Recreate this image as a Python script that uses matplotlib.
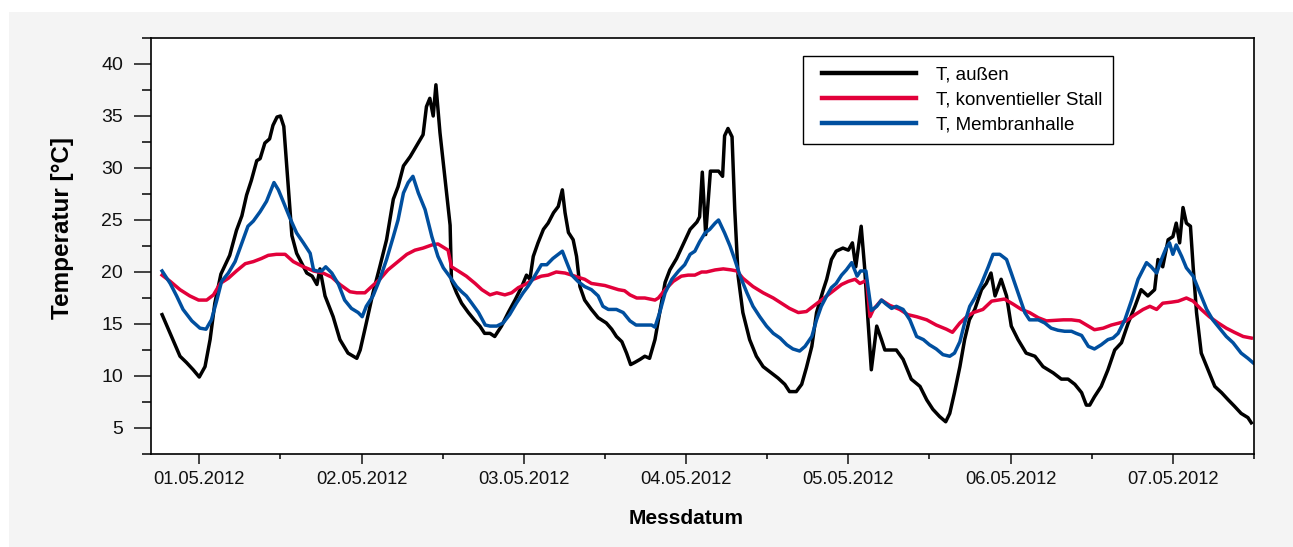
import matplotlib
matplotlib.use('Agg')
import matplotlib.pyplot as plt
import matplotlib.dates as mdates
from matplotlib.patches import Rectangle
from matplotlib.legend_handler import HandlerLine2D
from matplotlib.lines import Line2D
from datetime import datetime, timedelta

plt.rcParams['font.family'] = ['Liberation Sans', 'DejaVu Sans']

# times in hours after 01.05.2012 00:00, values in °C
aussen_h = [-5.5, -4.3, -2.85, -1.9, -0.9, 0, 0.85, 1.6, 2.3, 3.2, 4.5, 5.5, 6.3, 7.0, 7.7, 8.5, 9.0, 9.7,
            10.4, 10.9, 11.5, 12.0, 12.5, 13.7, 14.4, 15.9, 16.7, 17.4, 17.85, 18.6, 19.8, 20.8, 22.0, 23.3,
            23.8, 24.5, 25.7, 26.7, 27.7, 28.7, 29.4, 30.2, 31.2, 32.1, 33.1, 33.6, 34.1, 34.6, 35.0, 35.6,
            37.1, 37.3, 38.05, 38.8, 39.8, 40.8, 41.5, 42.2, 43.0, 43.7, 44.7, 45.7, 46.7, 47.7, 48.4, 48.9,
            49.4, 50.1, 50.9, 51.6, 52.4, 53.1, 53.7, 54.1, 54.6, 55.3, 55.8, 56.3, 57.0, 58.0, 59.0, 60.2,
            61.0, 61.7, 62.5, 63.2, 63.8, 64.4, 65.2, 65.9, 66.6, 67.4, 68.1, 68.9, 69.6, 70.6, 71.6, 72.6,
            73.6, 74.0, 74.4, 74.9, 75.6, 76.8, 77.4, 77.7, 78.2, 78.8, 79.2, 79.7, 80.4, 81.4, 82.4, 83.4,
            84.4, 85.6, 86.6, 87.3, 88.3, 89.1, 89.8, 90.6, 91.3, 92.3, 92.8, 93.5, 94.2, 95.2, 96.0, 96.6,
            97.1, 97.9, 98.4, 98.9, 99.4, 100.2, 100.9, 101.4, 103.1, 104.1, 105.3, 106.6, 107.6, 108.5,
            109.5, 110.4, 111.0, 111.7, 112.5, 113.2, 113.9, 114.7, 115.7, 116.4, 117.1, 117.7, 118.6,
            119.4, 120.1, 121.1, 122.3, 123.6, 124.8, 126.3, 127.5, 128.5, 129.5, 130.5, 131.2, 131.7,
            132.4, 133.4, 134.4, 135.4, 136.4, 137.4, 138.4, 139.3, 140.3, 141.3, 141.8, 142.5, 143.3,
            144.0, 144.5, 145.0, 145.5, 146.0, 146.6, 147.0, 147.5, 148.2, 149.2, 150.2, 151.2, 152.2,
            153.1, 154.1, 155.1, 155.6]
aussen = [15.9, 14.1, 11.9, 11.3, 10.6, 9.9, 10.9, 13.5, 17.0, 19.8, 21.6, 24.0, 25.4, 27.4, 28.8, 30.7, 30.9, 32.4,
          32.8, 34.1, 34.9, 35.0, 34.0, 23.5, 21.8, 19.9, 19.6, 18.8, 20.3, 17.7, 15.7, 13.5, 12.2, 11.7,
          12.5, 14.5, 18.0, 20.5, 23.1, 27.0, 28.2, 30.2, 31.1, 32.1, 33.2, 35.9, 36.7, 35.0, 38.0, 33.4,
          24.5, 19.2, 18.0, 17.0, 16.1, 15.3, 14.8, 14.1, 14.1, 13.8, 14.8, 16.1, 17.3, 18.6, 19.7, 19.3,
          21.5, 22.8, 24.1, 24.7, 25.7, 26.3, 27.9, 25.7, 23.8, 23.1, 21.5, 18.6, 17.3, 16.4, 15.6, 15.1,
          14.5, 13.8, 13.3, 12.2, 11.1, 11.3, 11.6, 11.9, 11.7, 13.5, 16.1, 19.0, 20.2, 21.3, 22.7, 24.1,
          24.8, 25.3, 29.6, 23.6, 29.7, 29.7, 29.2, 33.1, 33.8, 33.0, 26.0, 19.6, 16.1, 13.5, 11.9, 10.9,
          10.4, 9.8, 9.2, 8.5, 8.5, 9.2, 10.8, 12.85, 16.1, 18.3, 19.3, 21.2, 22.0, 22.3, 22.1, 22.8,
          20.5, 24.4, 20.5, 15.4, 10.6, 14.8, 13.5, 12.5, 12.5, 11.6, 9.7, 9.0, 7.7, 6.8,
          6.1, 5.6, 6.4, 8.4, 10.9, 13.5, 15.4, 16.4, 18.3, 18.9, 19.9, 17.7, 19.3,
          17.7, 14.8, 13.5, 12.2, 11.9, 10.9, 10.3, 9.7, 9.7, 9.2, 8.4, 7.2, 7.2,
          8.0, 9.0, 10.6, 12.5, 13.2, 15.1, 16.7, 18.3, 17.7, 18.3, 21.2, 20.5, 23.1,
          23.4, 24.7, 22.8, 26.2, 24.7, 24.4, 20.5, 16.1, 12.2, 10.6, 9.0, 8.4, 7.7,
          7.1, 6.4, 6.0, 5.5]

stall_h = [-5.5, -4.3, -2.85, -1.4, -0.1, 1.1, 2.1, 3.1, 4.3, 5.5, 6.8, 8.0, 9.2, 10.2, 11.4, 12.7, 13.9, 15.4,
           16.9, 18.3, 19.6, 20.8, 22.3, 23.3, 24.5, 25.5, 26.7, 27.9, 29.2, 30.7, 31.9, 33.1, 34.4, 35.3,
           36.8, 37.3, 38.3, 39.5, 40.8, 41.8, 43.0, 44.0, 45.2, 46.2, 47.2, 48.2, 49.4, 50.6, 51.6, 52.8,
           54.1, 55.1, 56.0, 57.0, 58.0, 59.0, 60.0, 61.0, 62.0, 62.9, 63.7, 64.7, 65.9, 67.4, 67.9, 68.9,
           70.1, 71.3, 72.3, 73.3, 74.3, 75.0, 76.3, 77.5, 78.7, 79.5, 80.4, 81.9, 83.4, 84.9, 86.1, 87.3,
           88.6, 89.8, 90.8, 92.0, 93.0, 94.0, 95.0, 96.0, 97.0, 97.7, 98.4, 98.7, 99.2, 99.7, 100.9,
           102.1, 103.6, 104.8, 106.1, 107.6, 109.0, 110.5, 111.4, 112.5, 113.5, 114.5, 115.9, 117.2,
           118.2, 119.1, 120.4, 121.6, 122.8, 124.1, 125.3, 126.5, 127.8, 129.0, 130.2, 131.5, 132.4,
           133.7, 134.9, 136.1, 137.1, 138.4, 139.6, 140.6, 141.6, 142.5, 143.8, 144.8, 146.0, 147.0,
           148.2, 149.4, 150.7, 151.9, 153.1, 154.4, 155.6]
stall = [19.7, 19.1, 18.3, 17.7, 17.3, 17.3, 17.8, 18.9, 19.4, 20.1, 20.8, 21.0, 21.3, 21.6, 21.7, 21.7, 21.0, 20.5,
         20.1, 19.9, 19.5, 18.8, 18.1, 18.0, 18.0, 18.6, 19.3, 20.2, 20.9, 21.7, 22.1, 22.3, 22.6, 22.7,
         22.1, 20.5, 20.1, 19.6, 18.9, 18.3, 17.8, 18.0, 17.8, 18.0, 18.5, 18.8, 19.3, 19.6, 19.7, 20.0,
         19.9, 19.7, 19.5, 19.3, 18.9, 18.8, 18.7, 18.5, 18.3, 18.2, 17.8, 17.5, 17.5, 17.3, 17.5, 18.3,
         19.1, 19.6, 19.7, 19.7, 20.0, 20.0, 20.2, 20.3, 20.2, 20.1, 19.4, 18.6, 18.0, 17.5, 17.0, 16.5,
         16.1, 16.2, 16.7, 17.3, 17.8, 18.3, 18.8, 19.1, 19.3, 18.9, 19.1, 19.2, 15.7, 16.4, 17.3,
         16.8, 16.4, 15.9, 15.7, 15.4, 14.9, 14.5, 14.2, 15.1, 15.7, 16.1, 16.4, 17.2,
         17.3, 17.4, 16.9, 16.4, 16.1, 15.6, 15.3, 15.35, 15.4, 15.4, 15.3, 14.8, 14.45,
         14.6, 14.9, 15.1, 15.3, 15.9, 16.4, 16.7, 16.4, 17.0, 17.1, 17.2, 17.5, 17.2,
         16.4, 15.7, 15.1, 14.6, 14.2, 13.8, 13.65]

halle_h = [-5.5, -4.3, -3.35, -2.4, -1.1, 0.1, 1.0, 1.8, 2.6, 3.3, 4.3, 5.3, 6.3, 7.2, 8.0, 9.0, 9.95, 11.05,
           11.7, 12.4, 13.4, 14.4, 15.4, 16.4, 16.9, 17.4, 18.1, 18.7, 19.6, 20.6, 21.5, 22.5, 23.5, 24.1,
           24.7, 25.7, 26.7, 27.7, 28.7, 29.4, 30.2, 30.9, 31.6, 32.4, 33.4, 34.4, 35.3, 36.1, 37.0, 38.05,
           38.8, 39.5, 40.3, 41.3, 42.3, 43.0, 44.0, 44.95, 45.9, 46.9, 47.9, 48.6, 49.6, 50.6, 51.4, 52.3,
           53.1, 53.7, 54.3, 55.1, 56.0, 57.0, 58.0, 59.0, 59.7, 60.5, 61.7, 62.7, 63.7, 64.6, 65.9, 66.9,
           67.4, 68.1, 68.9, 69.9, 70.9, 71.8, 72.6, 73.3, 74.0, 74.8, 75.5, 76.3, 76.8, 77.7, 78.5, 79.2,
           80.0, 81.0, 81.9, 82.9, 83.9, 84.9, 85.9, 86.9, 87.8, 88.8, 89.6, 90.6, 91.3, 92.0, 92.8, 93.5,
           94.2, 95.0, 95.7, 96.5, 97.3, 97.8, 98.6, 98.9, 99.4, 100.2, 100.9, 101.6, 102.4, 103.1, 104.1,
           105.1, 106.1, 107.1, 108.0, 109.0, 110.0, 111.0, 111.7, 112.5, 113.2, 113.96, 114.7, 115.7,
           116.7, 117.4, 118.4, 119.4, 120.1, 121.1, 122.1, 122.8, 124.1, 125.05, 126.0, 127.0, 128.0,
           129.0, 129.7, 130.5, 131.5, 132.4, 133.4, 134.4, 135.15, 135.9, 136.9, 137.9, 138.85, 140.1,
           140.8, 141.6, 142.3, 143.0, 143.5, 144.0, 144.5, 145.3, 146.0, 147.0, 148.0, 149.0, 149.9,
           150.9, 151.9, 152.9, 154.1, 155.1, 155.9]
halle = [20.1, 18.9, 17.7, 16.4, 15.3, 14.6, 14.5, 15.4, 17.3, 19.1, 19.9, 21.0, 22.8, 24.4, 24.9, 25.8, 26.8, 28.6,
         27.9, 26.8, 25.2, 23.75, 22.8, 21.8, 20.2, 20.1, 20.1, 20.5, 19.9, 18.8, 17.3, 16.5, 16.1, 15.7,
         16.7, 17.7, 19.3, 21.2, 23.4, 25.0, 27.6, 28.6, 29.2, 27.6, 26.0, 23.4, 21.5, 20.4, 19.6, 18.6,
         18.1, 17.7, 17.0, 16.1, 14.9, 14.8, 14.8, 15.1, 15.9, 17.0, 18.0, 18.6, 19.6, 20.7, 20.7, 21.3,
         21.7, 22.0, 21.0, 19.7, 19.1, 18.6, 18.3, 17.7, 16.7, 16.4, 16.4, 16.1, 15.3, 14.9, 14.9, 14.9,
         14.7, 16.1, 18.0, 19.3, 20.1, 20.7, 21.7, 22.0, 22.9, 23.75, 24.1, 24.7, 25.0, 23.75, 22.5, 21.2,
         19.6, 18.0, 16.7, 15.7, 14.8, 14.1, 13.65, 13.0, 12.6, 12.4, 12.85, 13.8, 15.4, 16.7, 17.7, 18.5,
         18.9, 19.7, 20.2, 20.9, 19.6, 20.1, 20.1, 18.6, 16.3, 16.7, 17.3, 16.9, 16.5, 16.7, 16.4,
         15.4, 13.8, 13.5, 13.0, 12.6, 12.05, 11.9, 12.2, 13.3, 15.1, 16.7, 17.5, 18.9,
         20.5, 21.7, 21.7, 21.2, 19.9, 18.0, 16.1, 15.4, 15.4, 15.1, 14.6, 14.4, 14.3,
         14.3, 14.1, 13.9, 12.85, 12.6, 13.0, 13.5, 13.65, 14.1, 15.4, 17.3, 19.3, 20.9,
         20.5, 19.9, 21.2, 22.3, 22.8, 21.7, 22.6, 21.5, 20.4, 19.6, 18.0, 16.4, 15.4,
         14.6, 13.8, 13.2, 12.2, 11.7, 11.25]

labels = ['T, außen', 'T, konventieller Stall', 'T, Membranhalle']
colors = ['#000000', '#e2003a', '#004f9f']

start = datetime(2012, 5, 1)


def to_dates(hours):
    return [start + timedelta(hours=h) for h in hours]


fig = plt.figure(figsize=(12.93, 5.47), dpi=100)
fig.patches.append(Rectangle((9 / 1293, 0), 1 - 9 / 1293, 1 - 12 / 547, transform=fig.transFigure,
                             facecolor='#f4f4f4', edgecolor='none', zorder=-10))
ax = fig.add_axes([151 / 1293, 93 / 547, 1103 / 1293, 416 / 547])

ax.plot(to_dates(aussen_h), aussen, color=colors[0], lw=2.5, label=labels[0])
ax.plot(to_dates(stall_h), stall, color=colors[1], lw=2.5, label=labels[1])
ax.plot(to_dates(halle_h), halle, color=colors[2], lw=2.5, label=labels[2])

ax.set_xlim(start - timedelta(hours=7.14), start + timedelta(hours=156))
ax.set_ylim(2.5, 42.5)
ax.set_yticks([5, 10, 15, 20, 25, 30, 35, 40])
ax.set_yticks([2.5, 7.5, 12.5, 17.5, 22.5, 27.5, 32.5, 37.5, 42.5], minor=True)
ax.xaxis.set_major_locator(mdates.DayLocator())
ax.xaxis.set_minor_locator(mdates.HourLocator(byhour=[12]))
ax.xaxis.set_major_formatter(mdates.DateFormatter('%d.%m.%Y'))

ax.tick_params(axis='y', which='major', direction='out', length=12, width=1.1, labelsize=14, pad=8,
               colors='#111111')
ax.tick_params(axis='y', which='minor', direction='out', length=6.5, width=1.1)
ax.tick_params(axis='x', which='major', direction='out', length=7, width=1.1, labelsize=13.2, pad=5,
               colors='#111111')
ax.tick_params(axis='x', which='minor', direction='out', length=3.5, width=1.1)
for s in ax.spines.values():
    s.set_linewidth(1.2)

fig.text(62 / 1293, 1 - 228 / 547, 'Temperatur [°C]', rotation=90, ha='center', va='center',
         fontsize=17.5, fontweight='bold')
fig.text(686 / 1293, 1 - 518 / 547, 'Messdatum', ha='center', va='center', fontsize=15, fontweight='bold')

leg = ax.legend(loc='upper left', bbox_to_anchor=((803 - 151) / 1103, (454 - 56) / 416), fontsize=13.5,
                fancybox=False, edgecolor='black', framealpha=1, handlelength=5.45, handletextpad=1.12,
                labelspacing=0.42, borderpad=0.55, borderaxespad=0,
                handler_map={Line2D: HandlerLine2D(xpad=0.46)})
leg.get_frame().set_linewidth(1.0)
for line in leg.get_lines():
    line.set_linewidth(3.2)

fig.savefig('out.png', dpi=100)
